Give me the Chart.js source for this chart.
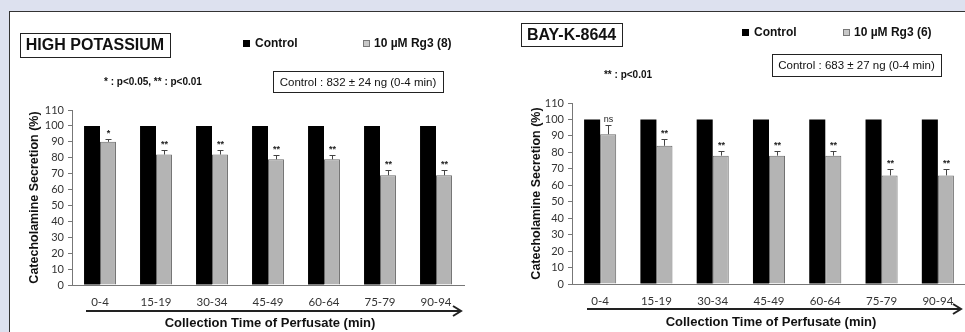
<!DOCTYPE html>
<html>
<head>
<meta charset="utf-8">
<script src="https://cdn.jsdelivr.net/npm/chart.js@4.4.1/dist/chart.umd.min.js"></script>
<style>
  html, body { margin: 0; padding: 0; }
  body { width: 965px; height: 332px; overflow: hidden; background: #dde1ef; position: relative; }
  #panel { position: absolute; left: 9px; top: 11px; width: 970px; height: 330px; background: #fff; border-top: 1px solid #333; border-left: 1px solid #333; }
  canvas { position: absolute; top: 0; }
  #hk { left: 0; }
  #bay { left: 480px; }
</style>
</head>
<body>
<div id="panel"></div>
<canvas id="hk" width="480" height="332"></canvas>
<canvas id="bay" width="490" height="332"></canvas>
<script>
const categories = ['0-4', '15-19', '30-34', '45-49', '60-64', '75-79', '90-94'];

// high potassium panel
const hkControl = [100, 100, 100, 100, 100, 100, 100];
const hkRg3 = [90, 82, 82, 79, 79, 69, 69];
const hkRg3Err = [2, 3, 3, 2.5, 2.5, 3, 3];
const hkSig = ['*', '**', '**', '**', '**', '**', '**'];

// BAY-K-8644 panel
const bayControl = [100, 100, 100, 100, 100, 100, 100];
const bayRg3 = [91, 84, 78, 78, 78, 66, 66];
const bayRg3Err = [5.5, 4, 3, 3, 3, 4, 4];
const baySig = ['ns', '**', '**', '**', '**', '**', '**'];

const yMin = 0, yMax = 110, yStep = 10;

const font = (s, b) => (b ? 'bold ' : '') + s + 'px "Liberation Sans", Arial, sans-serif';

function makeChart(canvas, cfg) {
    const W = canvas.width;
    const yAxisW = 40, xAxisH = 30;
    const ox = cfg.offsetX;

    const overlay = {
        id: 'overlay',
        afterDatasetsDraw(chart) {
            const ctx = chart.ctx;
            const y = chart.scales.y;
            const meta = chart.getDatasetMeta(1);
            ctx.save();
            ctx.strokeStyle = '#444';
            ctx.lineWidth = 1;
            meta.data.forEach((bar, i) => {
                const top = y.getPixelForValue(cfg.rg3[i]);
                const cap = y.getPixelForValue(cfg.rg3[i] + cfg.err[i]);
                const x = Math.round(bar.x) + 0.5;
                ctx.beginPath();
                ctx.moveTo(x, top);
                ctx.lineTo(x, Math.round(cap) + 0.5);
                ctx.moveTo(x - 3, Math.round(cap) + 0.5);
                ctx.lineTo(x + 3, Math.round(cap) + 0.5);
                ctx.stroke();
                ctx.fillStyle = '#222';
                ctx.font = cfg.sig[i] === 'ns' ? font(9, false) : font(9, true);
                ctx.textAlign = 'center';
                ctx.textBaseline = 'alphabetic';
                ctx.fillText(cfg.sig[i], x, cap - 3);
            });
            ctx.restore();
        },
        afterDraw(chart) {
            const ctx = chart.ctx;
            const h = cfg.header;
            ctx.save();
            ctx.translate(-ox, 0);
            ctx.fillStyle = '#111';
            ctx.strokeStyle = '#222';
            ctx.lineWidth = 1;

            // panel title box
            ctx.strokeRect(h.box[0] + 0.5, h.box[1] + 0.5, h.box[2], h.box[3]);
            ctx.font = font(16, true);
            ctx.textAlign = 'center';
            ctx.textBaseline = 'middle';
            ctx.fillText(h.title, h.box[0] + h.box[2] / 2, h.box[1] + h.box[3] / 2 + 1);

            // legend
            ctx.font = font(12, true);
            ctx.textAlign = 'left';
            ctx.fillStyle = '#000';
            ctx.fillRect(h.leg1[0], h.leg1[1] - 3.5, 7, 7);
            ctx.fillStyle = '#111';
            ctx.fillText('Control', h.leg1[0] + 12, h.leg1[1]);
            ctx.fillStyle = '#c8c8c8';
            ctx.fillRect(h.leg2[0], h.leg2[1] - 3.5, 7, 7);
            ctx.strokeStyle = '#777';
            ctx.strokeRect(h.leg2[0] + 0.5, h.leg2[1] - 3, 6, 6);
            ctx.fillStyle = '#111';
            ctx.fillText(h.rg3Label, h.leg2[0] + 11, h.leg2[1]);

            // control value box
            ctx.strokeStyle = '#222';
            ctx.strokeRect(h.ctrlBox[0] + 0.5, h.ctrlBox[1] + 0.5, h.ctrlBox[2], h.ctrlBox[3]);
            ctx.font = font(11.5, false);
            ctx.textAlign = 'center';
            ctx.fillText(h.ctrlText, h.ctrlBox[0] + h.ctrlBox[2] / 2, h.ctrlBox[1] + h.ctrlBox[3] / 2 + 1);

            // significance note
            ctx.font = font(10, true);
            ctx.fillText(h.pText, h.pPos[0], h.pPos[1]);
            ctx.restore();

            // axis titles
            const a = chart.chartArea;
            ctx.save();
            ctx.fillStyle = '#111';
            ctx.font = font(12.5, true);
            ctx.textAlign = 'center';
            ctx.textBaseline = 'middle';
            ctx.translate(cfg.yTitleX - ox, (a.top + a.bottom) / 2);
            ctx.rotate(-Math.PI / 2);
            ctx.fillText('Catecholamine Secretion (%)', 0, 0);
            ctx.restore();

            ctx.save();
            ctx.fillStyle = '#111';
            ctx.font = font(13, true);
            ctx.textAlign = 'center';
            ctx.textBaseline = 'middle';
            ctx.fillText('Collection Time of Perfusate (min)', (a.left + a.right) / 2 + 2, cfg.xTitleY);

            // arrow
            const ay = cfg.arrow[2];
            ctx.strokeStyle = '#222';
            ctx.lineWidth = 2;
            ctx.beginPath();
            ctx.moveTo(cfg.arrow[0] - ox, ay);
            ctx.lineTo(cfg.arrow[1] - ox, ay);
            ctx.moveTo(cfg.arrow[1] - ox - 8, ay - 5);
            ctx.lineTo(cfg.arrow[1] - ox, ay);
            ctx.lineTo(cfg.arrow[1] - ox - 8, ay + 5);
            ctx.stroke();
            ctx.restore();
        }
    };

    return new Chart(canvas, {
        type: 'bar',
        data: {
            labels: categories,
            datasets: [
                { label: 'Control', data: cfg.control, backgroundColor: '#000', borderWidth: 0 },
                { label: cfg.header.rg3Label, data: cfg.rg3, backgroundColor: '#b4b4b4', borderColor: '#6a6a6a', borderWidth: 1 }
            ]
        },
        options: {
            responsive: false,
            animation: false,
            devicePixelRatio: 1,
            layout: {
                padding: {
                    left: cfg.area.left - ox - yAxisW,
                    right: W - (cfg.area.right - ox),
                    top: cfg.area.top,
                    bottom: 332 - cfg.area.bottom - xAxisH
                }
            },
            datasets: { bar: { categoryPercentage: 0.57, barPercentage: 1.0 } },
            plugins: { legend: { display: false }, tooltip: { enabled: false } },
            scales: {
                x: {
                    grid: { display: false, drawTicks: false },
                    border: { display: true, color: '#777', width: 1 },
                    ticks: { color: '#333', font: { family: 'Lato', size: 11.5 }, padding: 10, maxRotation: 0, autoSkip: false },
                    afterFit(scale) { scale.height = xAxisH; }
                },
                y: {
                    min: yMin,
                    max: yMax,
                    grid: { drawOnChartArea: false, drawTicks: true, tickLength: 4, color: '#777' },
                    border: { display: true, color: '#777', width: 1 },
                    ticks: { stepSize: yStep, autoSkip: false, color: '#333', font: { family: 'Lato', size: 11 }, padding: 4 },
                    afterFit(scale) { scale.width = yAxisW; }
                }
            }
        },
        plugins: [overlay]
    });
}

makeChart(document.getElementById('hk'), {
    offsetX: 0,
    area: { left: 72, right: 464, top: 110, bottom: 285 },
    control: hkControl, rg3: hkRg3, err: hkRg3Err, sig: hkSig,
    yTitleX: 35, xTitleY: 323, arrow: [86, 461, 311],
    header: {
        title: 'HIGH POTASSIUM', box: [20, 33, 150, 24],
        leg1: [243, 43.5], leg2: [363, 43.5], rg3Label: '10 µM Rg3 (8)',
        ctrlBox: [273, 71, 170, 21], ctrlText: 'Control : 832 ± 24 ng (0-4 min)',
        pText: '* : p<0.05, ** : p<0.01', pPos: [153, 82]
    }
});

makeChart(document.getElementById('bay'), {
    offsetX: 480,
    area: { left: 572, right: 966, top: 103, bottom: 284 },
    control: bayControl, rg3: bayRg3, err: bayRg3Err, sig: baySig,
    yTitleX: 537, xTitleY: 322, arrow: [587, 961, 309],
    header: {
        title: 'BAY-K-8644', box: [521, 23, 101, 23],
        leg1: [742, 32.5], leg2: [843, 32.5], rg3Label: '10 µM Rg3 (6)',
        ctrlBox: [772, 54, 169, 22], ctrlText: 'Control : 683 ± 27 ng (0-4 min)',
        pText: '** : p<0.01', pPos: [628, 75]
    }
});
</script>
</body>
</html>
